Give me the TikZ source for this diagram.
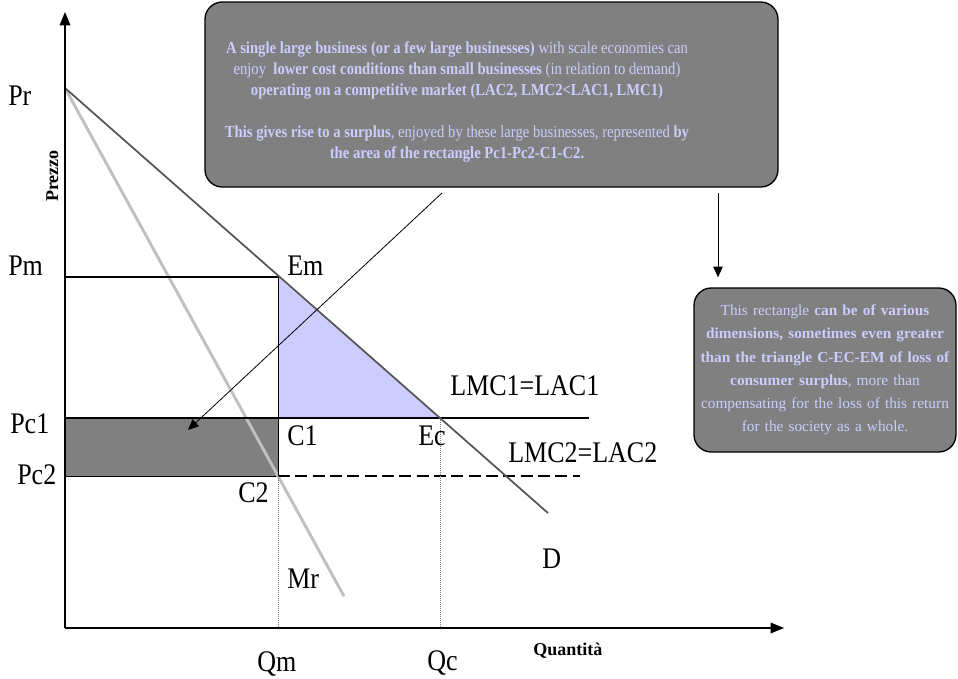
\documentclass[tikz,border=0pt]{standalone}
\usepackage{fontspec}
\setmainfont{Liberation Serif}
\usepackage{tikz}
\usetikzlibrary{arrows.meta,calc}
\definecolor{boxgray}{RGB}{128,128,128}
\definecolor{lavender}{RGB}{204,204,255}
\definecolor{demandgray}{RGB}{85,85,85}
\definecolor{revgray}{RGB}{192,192,192}
\tikzset{
  axis/.style={-{Triangle[length=10pt,width=8pt]}, line width=0.9pt},
  pointer/.style={-{Triangle[length=8pt,width=7pt]}, line width=0.6pt},
  note/.style={rectangle, rounded corners=13pt, draw=black, line width=1pt, fill=boxgray},
  notetext/.style={align=center, text=lavender},
  lbl/.style={anchor=base west, font=\fontsize{19.5}{22}\selectfont, inner sep=0pt, yscale=1.15},
  axlbl/.style={anchor=base west, font=\fontsize{13.5}{15}\selectfont\bfseries, inner sep=0pt},
  guide/.style={densely dotted, draw=gray, line width=0.5pt},
  level/.style={line width=0.9pt}
}

\begin{document}
\begin{tikzpicture}[x=0.75pt, y=-0.75pt]
\useasboundingbox (0,0) rectangle (958,679);
% points of the diagram
\coordinate (O) at (65,628);
\coordinate (ytop) at (65,12);
\coordinate (xend) at (784,628);
\coordinate (Pr) at (65,88);
\coordinate (Pm) at (65,277);
\coordinate (Pc1) at (65,418);
\coordinate (Pc2) at (65,476);
\coordinate (Em) at (278,277);
\coordinate (C1) at (278,418);
\coordinate (C2) at (278,476);
\coordinate (Ec) at (440,418);
\coordinate (Qm) at (278,628);
\coordinate (Qc) at (440,628);
\coordinate (Dend) at ($(Pr)!1.288!(Ec)$);
\coordinate (Mrend) at ($(Pr)!1.31!(C2)$);
\coordinate (lmc1end) at (589,418);
\coordinate (lmc2end) at (580,476);
% areas
\fill[lavender] (Em) -- (C1) -- (Ec) -- cycle;
\filldraw[fill=boxgray, draw=black, line width=0.6pt] (Pc1) rectangle (C2);
% curves
\draw[line width=2.2pt, revgray] (Pr) -- (Mrend);
\draw[level] (Pm) -- (Em);
\draw[level] (Pc1) -- (lmc1end);
\draw[line width=1.1pt, dash pattern=on 9pt off 4pt] (C2) -- (lmc2end);
\draw[line width=0.6pt] (Em) -- (C2);
\draw[guide] (C2) -- (Qm);
\draw[guide] (Ec) -- (Qc);
\draw[line width=1.3pt, demandgray] (Pr) -- (Dend);
\draw[axis] (O) -- (ytop);
\draw[axis] (O) -- (xend);
% labels
\node[lbl] (lPr) at (8,105) {Pr};
\node[lbl] (lPm) at (8,275) {Pm};
\node[lbl] (lPc1) at (10,433) {Pc1};
\node[lbl] (lPc2) at (17,484) {Pc2};
\node[lbl] (lEm) at (287,275) {Em};
\node[lbl] (lC1) at (287,445) {C1};
\node[lbl] (lEc) at (418,445) {Ec};
\node[lbl] (lC2) at (238,502) {C2};
\node[lbl] (lmc1) at (450,395) {LMC1=LAC1};
\node[lbl] (lmc2) at (508,462) {LMC2=LAC2};
\node[lbl] (lD) at (542,568) {D};
\node[lbl] (lMr) at (287,588) {Mr};
\node[lbl] (lQm) at (257,671) {Qm};
\node[lbl] (lQc) at (427,670) {Qc};
\node[axlbl] (quant) at (533,655) {Quantità};
\node[axlbl, rotate=90, anchor=base] (prezzo) at (58,176) {Prezzo};
% notes
\node[note, minimum width=429.75pt, minimum height=138.75pt] (surplus) at (491.5,94.5) {};
\node[notetext, yscale=1.15, font=\fontsize{11}{13.8}\selectfont] (surplustext) at (457,102) {%
\textbf{A single large business (or a few large businesses)} with scale economies can\\
enjoy \ \textbf{lower cost conditions than small businesses} (in relation to demand)\\
\textbf{operating on a competitive market (LAC2, LMC2<LAC1, LMC1)}\\[13.8pt]
\textbf{This gives rise to a surplus}, enjoyed by these large businesses, represented \textbf{by}\\
\textbf{the area of the rectangle Pc1-Pc2-C1-C2.}};
\node[note, notetext, text width=196pt, inner xsep=0.25pt, minimum height=123pt,
  font=\fontsize{11.5}{17.4}\selectfont] (gain) at (825,370) {%
This rectangle \textbf{can be of various}\\
\textbf{dimensions, sometimes even greater}\\
\textbf{than the triangle C-EC-EM of loss of}\\
\textbf{consumer surplus}, more than\\
compensating for the loss of this return\\
for the society as a whole.};
% pointers
\coordinate (ptrA) at (442,193);
\coordinate (ptrB) at (188,430);
\coordinate (dnA) at (718,193);
\draw[pointer] (ptrA) -- (ptrB);
\draw[pointer, shorten >=7.5pt] (dnA) -- (gain.north -| dnA);
\end{tikzpicture}
\end{document}
